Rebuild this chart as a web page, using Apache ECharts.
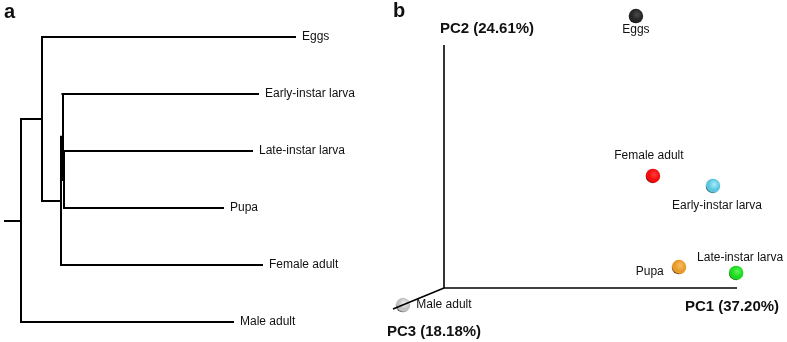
<!DOCTYPE html>
<html>
<head>
<meta charset="utf-8">
<script src="https://cdn.jsdelivr.net/npm/echarts@6/dist/echarts.min.js"></script>
<style>
  html, body { margin: 0; padding: 0; background: #fff; }
  #chart { width: 787px; height: 342px; }
</style>
</head>
<body>
<div id="chart"></div>
<script>
// panel a: dendrogram (leaves top to bottom, depth from root)
const leafNames = ['Eggs', 'Early-instar larva', 'Late-instar larva', 'Pupa', 'Female adult', 'Male adult']
const leafDepths = [2.74, 2.37, 2.31, 2.02, 2.41, 2.12]
const nodeNames = ['n3', 'n4', 'n2', 'n1', 'root']
const nodeDepths = [0.43, 0.415, 0.40, 0.21, 0]
const nodeChildren = [
  ['Late-instar larva', 'Pupa'],
  ['Early-instar larva', 'n3'],
  ['n4', 'Female adult'],
  ['Eggs', 'n2'],
  ['n1', 'Male adult']
]
const rootStub = 0.16

// panel b: PCA scores (projected PC1 / PC2 view)
const samples = ['Eggs', 'Female adult', 'Early-instar larva', 'Pupa', 'Late-instar larva', 'Male adult']
const pc1 = [6.55, 7.13, 9.18, 8.02, 9.97, -1.40]
const pc2 = [11.19, 4.61, 4.20, 0.86, 0.62, -0.70]
const axisNames = ['PC1 (37.20%)', 'PC2 (24.61%)', 'PC3 (18.18%)']
const axisEnds = [[10, 0], [0, 10], [-1.74, -0.86]]

const font = "'Liberation Sans', Arial, sans-serif"
const textColor = '#111'

// highlight, body, shadow edge
const sphereColors = {
  'Eggs': ['#4a4a4a', '#262626', '#050505'],
  'Female adult': ['#ff4040', '#f20c0c', '#4a0000'],
  'Early-instar larva': ['#a8ecfa', '#5cc6de', '#163e48'],
  'Pupa': ['#f6c060', '#e89a2c', '#4a2c04'],
  'Late-instar larva': ['#5cf55c', '#1ed81e', '#064a06'],
  'Male adult': ['#f4f4f4', '#c2c2c2', '#4a4a4a']
}
const labelPlace = {
  'Eggs': { position: 'bottom', distance: 0 },
  'Female adult': { position: 'top', distance: 7, offset: [-4, 0] },
  'Early-instar larva': { position: 'bottom', distance: 6, offset: [4, 0] },
  'Pupa': { position: 'left', distance: 8, offset: [0, 5] },
  'Late-instar larva': { position: 'top', distance: 2, offset: [4, 0] },
  'Male adult': { position: 'right', distance: 6 }
}

// tree layout
const pos = {}
leafNames.forEach((n, i) => { pos[n] = { x: leafDepths[i], y: i } })
nodeNames.forEach((n, i) => {
  const ys = nodeChildren[i].map((c) => pos[c].y)
  pos[n] = { x: nodeDepths[i], y: (Math.min(...ys) + Math.max(...ys)) / 2 }
})
const treeSegs = []
nodeNames.forEach((n, i) => {
  const ch = nodeChildren[i]
  const ys = ch.map((c) => pos[c].y)
  treeSegs.push({ coords: [[pos[n].x, Math.min(...ys)], [pos[n].x, Math.max(...ys)]] })
  ch.forEach((c) => {
    treeSegs.push({ coords: [[pos[n].x, pos[c].y], [pos[c].x, pos[c].y]] })
  })
})
treeSegs.push({ coords: [[-rootStub, pos.root.y], [0, pos.root.y]] })

const chart = echarts.init(document.getElementById('chart'))

const axisTitle = (text, x, y) => ({
  type: 'text',
  x,
  y,
  style: { text, font: 'bold 15px ' + font, fill: textColor, align: 'center', verticalAlign: 'middle' }
})

const option = {
  animation: false,
  textStyle: { fontFamily: font },
  grid: [
    { left: 5, top: 37, width: 316, height: 285 },
    { left: 385.4, top: 8.55, width: 395.55, height: 328.05 }
  ],
  xAxis: [
    { gridIndex: 0, type: 'value', min: -rootStub, max: 3.0, show: false },
    { gridIndex: 1, type: 'value', min: -2, max: 11.5, show: false }
  ],
  yAxis: [
    { gridIndex: 0, type: 'value', min: 0, max: 5, inverse: true, show: false },
    { gridIndex: 1, type: 'value', min: -2, max: 11.5, show: false }
  ],
  graphic: [
    { type: 'text', left: 4, top: 2, style: { text: 'a', font: 'bold 20px ' + font, fill: textColor } },
    { type: 'text', left: 393, top: 1, style: { text: 'b', font: 'bold 20px ' + font, fill: textColor } },
    axisTitle(axisNames[1], 487, 29),
    axisTitle(axisNames[0], 732, 307),
    axisTitle(axisNames[2], 434, 332)
  ],
  series: [
    {
      type: 'lines',
      coordinateSystem: 'cartesian2d',
      xAxisIndex: 0,
      yAxisIndex: 0,
      data: treeSegs,
      lineStyle: { color: '#000', width: 2, opacity: 1, cap: 'square' },
      silent: true
    },
    {
      type: 'scatter',
      xAxisIndex: 0,
      yAxisIndex: 0,
      symbolSize: 0,
      itemStyle: { opacity: 1 },
      data: leafNames.map((n, i) => ({ name: n, value: [leafDepths[i], i] })),
      label: {
        show: true,
        position: 'right',
        distance: 7,
        formatter: '{b}',
        fontSize: 12,
        color: textColor,
        fontFamily: font
      },
      silent: true
    },
    {
      type: 'scatter',
      xAxisIndex: 1,
      yAxisIndex: 1,
      symbolSize: 14.5,
      clip: false,
      z: 2,
      data: samples.map((n, i) => {
        const c = sphereColors[n]
        return {
          name: n,
          value: [pc1[i], pc2[i]],
          itemStyle: {
            opacity: 1,
            color: {
              type: 'radial',
              x: 0.58,
              y: 0.4,
              r: 0.62,
              colorStops: [
                { offset: 0, color: c[0] },
                { offset: 0.6, color: c[1] },
                { offset: 0.85, color: c[1] },
                { offset: 1, color: c[2] }
              ]
            }
          },
          label: labelPlace[n]
        }
      }),
      itemStyle: { opacity: 1 },
      label: {
        show: true,
        formatter: '{b}',
        fontSize: 12,
        color: textColor,
        fontFamily: font
      },
      silent: true
    },
    {
      type: 'lines',
      coordinateSystem: 'cartesian2d',
      xAxisIndex: 1,
      yAxisIndex: 1,
      z: 3,
      data: axisEnds.map((e) => ({ coords: [[0, 0], e] })),
      lineStyle: { color: '#000', width: 1.6, opacity: 1 },
      silent: true
    }
  ]
}

chart.setOption(option)
</script>
</body>
</html>
